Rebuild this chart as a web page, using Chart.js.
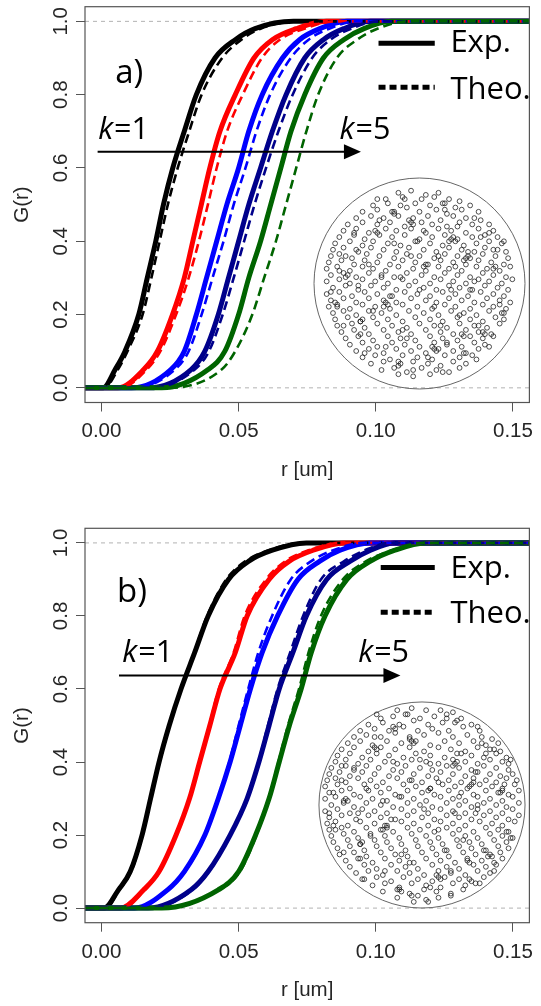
<!DOCTYPE html>
<html>
<head>
<meta charset="utf-8">
<script src="https://cdn.jsdelivr.net/npm/chart.js@4.4.1/dist/chart.umd.min.js"></script>
<style>
  body { margin: 0; background: #fff; }
  #wrap { position: relative; width: 541px; height: 1006px; background: #fff; overflow: hidden; }
  canvas { position: absolute; }
</style>
</head>
<body>
<div id="wrap">
  <canvas id="panelA" width="541" height="503" style="left:0;top:0"></canvas>
  <canvas id="panelB" width="541" height="503" style="left:0;top:503px"></canvas>
  <canvas id="insetA" width="225" height="225" style="left:307px;top:171px"></canvas>
  <canvas id="insetB" width="220" height="220" style="left:312px;top:695px"></canvas>
</div>
<script>
const gLevels = [0, 0.05, 0.1, 0.2, 0.3, 0.4, 0.5, 0.6, 0.7, 0.8, 0.9, 0.95, 0.98, 1.0];
const xTicks = [0, 0.05, 0.10, 0.15];
const yTicks = [0, 0.2, 0.4, 0.6, 0.8, 1.0];
const refLines = [0, 1];
const xRange = [-0.006, 0.156];
const yRange = [-0.04, 1.04];
const seriesColors = ["#000000", "#ff0000", "#0000ff", "#00008b", "#006400"];

// panel a) experimental (solid) and theoretical (dashed), k = 1..5
const aExp1 = [0.0006, 0.005, 0.0086, 0.0136, 0.0167, 0.0198, 0.0226, 0.026, 0.0302, 0.0346, 0.0414, 0.0488, 0.056, 0.070];
const aExp2 = [0.006, 0.0154, 0.0204, 0.0259, 0.0302, 0.0333, 0.0364, 0.0395, 0.0432, 0.0488, 0.0556, 0.0623, 0.071, 0.082];
const aExp3 = [0.011, 0.0253, 0.0302, 0.0346, 0.0383, 0.042, 0.0457, 0.050, 0.0537, 0.0586, 0.066, 0.0722, 0.0796, 0.0895];
const aExp4 = [0.017, 0.0327, 0.0377, 0.0426, 0.0463, 0.050, 0.0537, 0.058, 0.0623, 0.0673, 0.0741, 0.0809, 0.0883, 0.098];
const aExp5 = [0.022, 0.0389, 0.045, 0.050, 0.0537, 0.058, 0.0617, 0.0654, 0.0691, 0.0741, 0.0809, 0.0883, 0.0957, 0.1056];
const aTheo1 = [0.001, 0.006, 0.0095, 0.015, 0.0182, 0.0212, 0.0242, 0.0278, 0.032, 0.0365, 0.044, 0.051, 0.058, 0.072];
const aTheo2 = [0.007, 0.0165, 0.0215, 0.0272, 0.0318, 0.0355, 0.0388, 0.042, 0.0458, 0.0515, 0.0585, 0.065, 0.074, 0.085];
const aTheo3 = [0.012, 0.0268, 0.0318, 0.0365, 0.0405, 0.0445, 0.0482, 0.0525, 0.0565, 0.0615, 0.069, 0.0755, 0.083, 0.093];
const aTheo4 = [0.018, 0.034, 0.0392, 0.0442, 0.0482, 0.052, 0.0558, 0.060, 0.0645, 0.0697, 0.0768, 0.0835, 0.091, 0.101];
const aTheo5 = [0.024, 0.0438, 0.0488, 0.055, 0.0593, 0.0636, 0.0673, 0.071, 0.0747, 0.079, 0.0858, 0.0932, 0.1006, 0.1117];

// panel b)
const bExp1 = [0.001, 0.0062, 0.0105, 0.0148, 0.0179, 0.021, 0.0247, 0.029, 0.034, 0.0389, 0.0463, 0.0537, 0.0623, 0.0747];
const bExp2 = [0.007, 0.0154, 0.021, 0.0272, 0.0321, 0.0358, 0.0395, 0.0432, 0.0488, 0.0531, 0.0611, 0.0685, 0.0772, 0.0883];
const bExp3 = [0.012, 0.0241, 0.0302, 0.0377, 0.0426, 0.0469, 0.0506, 0.0543, 0.0586, 0.0642, 0.0716, 0.0796, 0.087, 0.098];
const bExp4 = [0.017, 0.0327, 0.0389, 0.0469, 0.0531, 0.0574, 0.0611, 0.0648, 0.0698, 0.0747, 0.0821, 0.0907, 0.0981, 0.1068];
const bExp5 = [0.022, 0.0426, 0.050, 0.0562, 0.0611, 0.0648, 0.0685, 0.0728, 0.0765, 0.0815, 0.0895, 0.0981, 0.107, 0.118];
const bTheo1 = [0.0015, 0.0065, 0.0108, 0.015, 0.018, 0.0212, 0.0248, 0.029, 0.0338, 0.0385, 0.0455, 0.0525, 0.061, 0.073];
const bTheo2 = [0.0075, 0.0158, 0.0212, 0.0272, 0.032, 0.0357, 0.0393, 0.0428, 0.0482, 0.0522, 0.060, 0.067, 0.0755, 0.087];
const bTheo3 = [0.0125, 0.0245, 0.0305, 0.0378, 0.0425, 0.0466, 0.050, 0.0535, 0.0572, 0.0622, 0.069, 0.0765, 0.0845, 0.096];
const bTheo4 = [0.0175, 0.0332, 0.0392, 0.047, 0.053, 0.0572, 0.0607, 0.0642, 0.0688, 0.0735, 0.080, 0.0885, 0.096, 0.105];
const bTheo5 = [0.0225, 0.043, 0.0505, 0.0565, 0.061, 0.0645, 0.068, 0.072, 0.0755, 0.080, 0.088, 0.0965, 0.106, 0.117];

// inset point patterns (positions inside a circle of radius 50)
const insetA = [
  [-10,43],[-4,44],[3,42],[9,43],
  [-16,40],[-8,41],[1,40],[7,41],[14,40],[19,39],
  [-22,37],[-15,38],[-9,37],[-2,38],[5,37],[11,38],[17,36],[24,37],
  [-27,34],[-20,35],[-12,34],[-6,36],[0,34],[8,35],[13,33],[20,35],[28,34],
  [-30,31],[-23,32],[-17,31],[-10,32],[-3,31],[4,32],[10,30],[16,32],[22,31],[29,30],
  [-34,28],[-27,29],[-20,28],[-14,29],[-7,27],[1,29],[6,28],[13,27],[19,29],[25,28],[33,28],
  [-36,25],[-30,26],[-24,24],[-16,26],[-11,25],[-4,26],[3,24],[9,26],[15,25],[22,24],[28,26],[35,25],
  [-38,22],[-31,23],[-26,21],[-19,23],[-13,22],[-7,23],[0,21],[6,22],[12,23],[18,21],[25,22],[31,23],[37,22],
  [-40,19],[-33,20],[-27,18],[-22,20],[-15,19],[-9,18],[-2,20],[5,19],[11,18],[17,20],[21,18],[27,19],[33,20],[39,19],
  [-41,16],[-36,17],[-29,15],[-23,17],[-17,16],[-11,15],[-5,17],[2,16],[8,15],[14,17],[20,16],[26,15],[31,17],[37,16],[41,15],
  [-42,13],[-38,14],[-32,12],[-25,14],[-19,13],[-12,12],[-6,14],[0,13],[7,12],[12,14],[18,13],[24,12],[30,14],[36,13],[42,12],
  [-43,10],[-37,11],[-31,9],[-26,11],[-20,10],[-14,9],[-8,11],[-2,10],[4,9],[10,11],[16,10],[22,9],[28,11],[34,10],[40,9],
  [-44,7],[-39,8],[-33,6],[-27,8],[-22,7],[-16,6],[-10,8],[-3,7],[3,6],[9,8],[14,7],[20,6],[27,8],[32,7],[38,6],[43,8],
  [-42,4],[-36,5],[-30,3],[-24,5],[-18,4],[-12,3],[-6,5],[1,4],[7,3],[12,5],[18,4],[24,3],[30,5],[35,4],[41,3],
  [-44,1],[-38,2],[-33,0],[-27,2],[-21,1],[-15,0],[-8,2],[-2,1],[5,0],[10,2],[16,1],[22,0],[28,2],[33,1],[39,0],[44,2],
  [-41,-2],[-35,-1],[-29,-3],[-23,-1],[-17,-2],[-11,-3],[-5,-1],[2,-2],[8,-3],[14,-1],[19,-2],[25,-3],[31,-1],[37,-2],[42,-3],
  [-44,-5],[-38,-4],[-32,-6],[-26,-4],[-20,-5],[-14,-6],[-7,-4],[-1,-5],[5,-6],[11,-4],[17,-5],[23,-6],[29,-4],[35,-5],[40,-6],
  [-42,-8],[-36,-7],[-30,-9],[-24,-7],[-17,-8],[-11,-9],[-4,-7],[3,-8],[8,-9],[14,-7],[20,-8],[26,-9],[32,-7],[38,-8],[43,-9],
  [-43,-11],[-39,-10],[-33,-12],[-27,-10],[-21,-11],[-14,-12],[-8,-10],[-1,-11],[6,-12],[12,-10],[17,-11],[24,-12],[30,-10],[35,-11],[41,-12],
  [-41,-14],[-36,-13],[-30,-15],[-24,-13],[-18,-14],[-11,-15],[-5,-13],[2,-14],[9,-15],[15,-13],[21,-14],[27,-15],[33,-13],[39,-14],
  [-40,-17],[-34,-16],[-28,-18],[-22,-16],[-15,-17],[-8,-18],[-2,-16],[5,-17],[11,-18],[18,-16],[24,-17],[30,-18],[36,-16],[40,-17],
  [-39,-20],[-32,-19],[-26,-21],[-20,-19],[-13,-20],[-6,-21],[0,-19],[7,-20],[13,-21],[19,-19],[26,-20],[32,-21],[38,-19],
  [-37,-23],[-31,-22],[-24,-24],[-17,-22],[-10,-23],[-4,-24],[3,-22],[10,-23],[16,-24],[22,-22],[28,-23],[34,-24],
  [-35,-26],[-29,-25],[-22,-27],[-15,-25],[-9,-26],[-2,-27],[5,-25],[11,-26],[18,-27],[24,-25],[30,-26],[35,-25],
  [-33,-29],[-27,-28],[-20,-30],[-13,-28],[-7,-29],[0,-30],[7,-28],[13,-29],[20,-30],[26,-28],[31,-29],
  [-30,-32],[-24,-31],[-17,-33],[-11,-31],[-4,-32],[3,-33],[9,-31],[16,-32],[22,-33],[28,-31],
  [-27,-35],[-21,-34],[-14,-36],[-8,-34],[-1,-35],[6,-36],[12,-34],[19,-35],[25,-34],
  [-23,-38],[-17,-37],[-10,-39],[-3,-37],[4,-38],[10,-39],[16,-37],[22,-38],
  [-18,-41],[-12,-40],[-6,-42],[1,-40],[8,-41],[14,-42],[19,-40],
  [-10,-43],[-3,-44],[5,-43],[11,-42],
  [-7,40],[12,35],[-19,30],[26,31],[-31,24],[2,25],[18,27],[-12,19],[-35,13],[23,15],
  [9,13],[-24,9],[35,16],[-4,13],[17,8],[-29,-1],[0,-3],[26,1],[-13,-6],[38,-10],
  [-22,-13],[7,-11],[19,-15],[-36,-20],[-8,-22],[28,-20],[13,-28],[-16,-30],[4,-35],[-28,-24],
  [33,-30],[-3,-41],[21,-33],[-38,6],[40,20],[-20,40],[29,22],[-26,-33],[15,-3],[-9,3],
  [-5,30],[-4,29],[-3,28],[21,11],[22,12],[23,13],[-16,-9],[-15,-10],[-17,-11],[30,-23],
  [31,-24],[-34,4],[-35,3],[6,-30],[7,-31],[8,-32],[-20,24],[-21,25],[14,20],[15,21],
  [16,22],[-40,-9],[-39,-11],[35,7],[36,8],[-9,-38],[-10,-37],[2,8],[3,9],[-27,-17],
  [-28,-18],[20,-24],[21,-25],[-13,34],[-12,33],[27,-36],[40,-14],[-42,-4],[-30,16],[10,-20],
  [-6,-26],[33,24],[-18,3],[24,-3],[-1,20],[12,38]
];
const insetB = [
  [-12,46],[-5,47],[2,46],[9,46],[15,45],
  [-20,42],[-14,43],[-7,44],[-1,42],[6,43],[12,44],[19,42],
  [-26,39],[-19,40],[-11,39],[-4,41],[3,39],[10,40],[17,41],[24,39],[27,38],
  [-30,36],[-23,37],[-16,36],[-9,38],[-2,36],[5,37],[13,36],[20,38],[28,36],
  [-33,33],[-27,34],[-20,33],[-13,35],[-6,33],[1,34],[8,35],[15,33],[22,34],[29,33],[34,32],
  [-36,30],[-30,31],[-24,29],[-17,31],[-10,30],[-3,31],[4,29],[11,31],[18,30],[25,31],[31,29],[37,30],
  [-39,27],[-33,28],[-26,26],[-20,28],[-13,27],[-6,28],[1,26],[8,28],[14,27],[21,26],[27,28],[33,27],[38,26],
  [-41,24],[-35,25],[-29,23],[-22,25],[-16,24],[-9,23],[-3,25],[4,24],[11,23],[17,25],[24,24],[30,23],[36,25],[41,23],
  [-42,21],[-37,22],[-31,20],[-25,22],[-18,21],[-12,20],[-5,22],[2,21],[8,20],[15,22],[21,21],[27,20],[33,22],[39,21],[42,20],
  [-44,18],[-39,19],[-33,17],[-27,19],[-21,18],[-14,17],[-8,19],[-1,18],[5,17],[12,19],[18,18],[24,17],[30,19],[36,18],[42,17],
  [-45,15],[-40,16],[-35,14],[-29,16],[-23,15],[-16,14],[-10,16],[-4,15],[3,14],[9,16],[15,15],[21,14],[27,16],[33,15],[38,14],[44,15],
  [-46,12],[-42,13],[-37,11],[-31,13],[-25,12],[-19,11],[-12,13],[-6,12],[0,11],[7,13],[13,12],[19,11],[25,13],[31,12],[36,11],[41,13],[46,12],
  [-47,9],[-41,10],[-35,8],[-28,10],[-22,9],[-16,8],[-9,10],[-3,9],[4,8],[10,10],[16,9],[22,8],[28,10],[34,9],[39,8],[45,10],
  [-45,6],[-39,7],[-33,5],[-26,7],[-20,6],[-13,5],[-7,7],[0,6],[6,5],[13,7],[19,6],[25,5],[31,7],[37,6],[42,5],[47,7],
  [-47,3],[-42,4],[-36,2],[-30,4],[-24,3],[-17,2],[-11,4],[-4,3],[2,2],[9,4],[15,3],[21,2],[27,4],[33,3],[39,2],[44,4],
  [-44,0],[-38,1],[-33,-1],[-27,1],[-20,0],[-14,-1],[-7,1],[-1,0],[5,-1],[12,1],[18,0],[24,-1],[30,1],[36,0],[41,-1],[47,1],
  [-47,-3],[-41,-2],[-35,-4],[-29,-2],[-23,-3],[-17,-4],[-10,-2],[-4,-3],[3,-4],[9,-2],[15,-3],[21,-4],[27,-2],[33,-3],[39,-4],[44,-2],
  [-45,-6],[-39,-5],[-32,-7],[-26,-5],[-20,-6],[-13,-7],[-7,-5],[0,-6],[6,-7],[12,-5],[18,-6],[24,-7],[30,-5],[36,-6],[42,-7],[47,-5],
  [-46,-9],[-42,-8],[-36,-10],[-30,-8],[-23,-9],[-17,-10],[-10,-8],[-4,-9],[3,-10],[9,-8],[15,-9],[21,-10],[28,-8],[34,-9],[39,-10],[45,-8],
  [-45,-12],[-39,-11],[-33,-13],[-27,-11],[-20,-12],[-14,-13],[-7,-11],[-1,-12],[6,-13],[12,-11],[18,-12],[25,-13],[31,-11],[37,-12],[42,-13],
  [-44,-15],[-38,-14],[-31,-16],[-25,-14],[-18,-15],[-11,-16],[-5,-14],[2,-15],[8,-16],[15,-14],[21,-15],[27,-16],[33,-14],[39,-15],[44,-16],
  [-43,-18],[-36,-17],[-30,-19],[-23,-17],[-17,-18],[-10,-19],[-3,-17],[4,-18],[10,-19],[17,-17],[23,-18],[29,-19],[35,-17],[41,-18],
  [-41,-21],[-35,-20],[-28,-22],[-22,-20],[-15,-21],[-8,-22],[-2,-20],[5,-21],[12,-22],[18,-20],[24,-21],[31,-22],[37,-20],[42,-21],
  [-40,-24],[-33,-23],[-27,-25],[-20,-23],[-13,-24],[-7,-25],[0,-23],[7,-24],[13,-25],[20,-23],[26,-24],[32,-25],[38,-23],
  [-37,-27],[-31,-26],[-24,-28],[-18,-26],[-11,-27],[-4,-28],[2,-26],[9,-27],[16,-28],[22,-26],[29,-27],[35,-28],[39,-26],
  [-35,-30],[-28,-29],[-22,-31],[-15,-29],[-8,-30],[-2,-31],[5,-29],[12,-30],[18,-31],[25,-29],[31,-30],[36,-29],
  [-32,-33],[-26,-32],[-19,-34],[-12,-32],[-6,-33],[1,-34],[8,-32],[14,-33],[21,-34],[27,-32],[33,-33],
  [-29,-36],[-22,-35],[-15,-37],[-9,-35],[-2,-36],[5,-37],[11,-35],[18,-36],[24,-37],[30,-35],
  [-24,-39],[-18,-38],[-11,-40],[-5,-38],[2,-39],[9,-40],[15,-38],[21,-39],[26,-38],
  [-19,-42],[-12,-41],[-6,-43],[1,-41],[7,-42],[14,-43],[20,-41],
  [-12,-45],[-5,-44],[2,-46],[8,-45],[14,-44],
  [-4,-47],[3,-47],
  [-8,44],[16,40],[-23,33],[29,30],[-37,19],[4,20],[19,25],[-14,21],[-39,12],[26,16],
  [8,11],[-27,8],[40,10],[-5,12],[18,4],[-31,-4],[1,-2],[27,0],[-15,-7],[41,-13],
  [-25,-15],[8,-12],[20,-17],[-38,-23],[-10,-24],[30,-22],[14,-32],[-18,-32],[4,-40],[-30,-26],
  [35,-32],[-2,-44],[23,-36],[-43,6],[43,22],[-22,44],[31,25],[-28,-36],[16,-4],[-10,4],
  [-6,32],[-5,31],[-4,30],[23,9],[24,10],[25,11],[-18,-10],[-17,-11],[-19,-12],[33,-24],
  [34,-25],[-37,3],[-38,2],[7,-34],[8,-35],[9,-36],[-22,27],[-23,28],[15,19],[16,20],
  [17,21],[-43,-10],[-42,-12],[38,6],[39,7],[-10,-42],[-11,-41],[3,7],[4,8],[-29,-18],
  [-30,-19],[22,-27],[23,-28],[-14,38],[-13,37],[28,-38],[43,-16],[-45,-4],[-33,18],[11,-22],
  [-6,-28],[35,27],[-19,2],[26,-4],[-1,22],[12,42]
];
const ringRadius = 50;

const tickFont = '20.5px "Liberation Sans", Arial, sans-serif';
const noteFont = '"Open Sans", "Lato", sans-serif';

function curve(r, i, dashed) {
  const pts = [{ x: xRange[0], y: 0 }];
  r.forEach((v, j) => pts.push({ x: v, y: gLevels[j] }));
  pts.push({ x: xRange[1], y: 1 });
  return {
    data: pts,
    showLine: true,
    borderColor: seriesColors[i],
    borderWidth: dashed ? 2.6 : 5,
    borderDash: dashed ? [9, 5] : [],
    pointRadius: 0,
    cubicInterpolationMode: "monotone",
    fill: false,
    // later k drawn on top, dashed over solid
    order: (dashed ? 0 : 10) + (4 - i)
  };
}

const decor = {
  id: "decor",
  beforeDatasetsDraw(chart) {
    const { ctx, chartArea: ca, scales: { y } } = chart;
    ctx.save();
    ctx.strokeStyle = "#b3b3b3";
    ctx.lineWidth = 1;
    ctx.setLineDash([4, 4]);
    refLines.forEach(v => {
      const py = y.getPixelForValue(v);
      ctx.beginPath();
      ctx.moveTo(ca.left, py);
      ctx.lineTo(ca.right, py);
      ctx.stroke();
    });
    ctx.restore();
  },
  afterDraw(chart, args, o) {
    const { ctx, chartArea: ca, scales: { x, y } } = chart;
    ctx.save();
    // frame
    ctx.strokeStyle = "#555";
    ctx.lineWidth = 1.2;
    ctx.strokeRect(ca.left, ca.top, ca.right - ca.left, ca.bottom - ca.top);

    // y tick labels, rotated like R's las=0
    ctx.fillStyle = "#262626";
    ctx.font = tickFont;
    ctx.textAlign = "center";
    ctx.textBaseline = "alphabetic";
    yTicks.forEach(v => {
      ctx.save();
      ctx.translate(ca.left - 18.3, y.getPixelForValue(v));
      ctx.rotate(-Math.PI / 2);
      ctx.fillText(v.toFixed(1), 0, 0);
      ctx.restore();
    });
    // axis titles
    ctx.fillText("r [um]", (ca.left + ca.right) / 2, ca.bottom + 73.5);
    ctx.save();
    ctx.translate(ca.left - 57, (ca.top + ca.bottom) / 2);
    ctx.rotate(-Math.PI / 2);
    ctx.fillText("G(r)", 0, 0);
    ctx.restore();

    // arrow k=1 -> k=5
    const ax0 = x.getPixelForValue(o.arrow[0]);
    const ax1 = x.getPixelForValue(o.arrow[1]);
    const ay = y.getPixelForValue(o.arrow[2]);
    ctx.strokeStyle = "#000";
    ctx.fillStyle = "#000";
    ctx.lineWidth = 2;
    ctx.beginPath();
    ctx.moveTo(ax0, ay);
    ctx.lineTo(ax1 - 12, ay);
    ctx.stroke();
    ctx.beginPath();
    ctx.moveTo(ax1, ay);
    ctx.lineTo(ax1 - 17, ay - 7.5);
    ctx.lineTo(ax1 - 17, ay + 7.5);
    ctx.closePath();
    ctx.fill();

    // k labels
    ctx.textAlign = "left";
    o.kLabels.forEach(k => {
      const px = x.getPixelForValue(k.r), py = y.getPixelForValue(o.kG);
      ctx.font = "italic 30.5px " + noteFont;
      ctx.fillText("k", px, py);
      const w = ctx.measureText("k").width;
      ctx.font = "30.5px " + noteFont;
      ctx.fillText(k.text, px + w + 1, py);
    });

    // panel tag
    ctx.font = "33px " + noteFont;
    ctx.fillText(o.tag, x.getPixelForValue(o.tagPos[0]), y.getPixelForValue(o.tagPos[1]));

    // legend
    const lx0 = x.getPixelForValue(o.legend.r0), lx1 = x.getPixelForValue(o.legend.r1);
    const lt = x.getPixelForValue(o.legend.rt);
    ctx.lineWidth = 5;
    ctx.beginPath();
    ctx.moveTo(lx0, y.getPixelForValue(o.legend.gExp));
    ctx.lineTo(lx1, y.getPixelForValue(o.legend.gExp));
    ctx.stroke();
    ctx.setLineDash([7, 4]);
    ctx.beginPath();
    ctx.moveTo(lx0, y.getPixelForValue(o.legend.gTheo));
    ctx.lineTo(lx1, y.getPixelForValue(o.legend.gTheo));
    ctx.stroke();
    ctx.setLineDash([]);
    ctx.font = "31px " + noteFont;
    ctx.fillText("Exp.", lt, y.getPixelForValue(o.legend.gExpText));
    ctx.fillText("Theo.", lt, y.getPixelForValue(o.legend.gTheoText));
    ctx.restore();
  }
};

function makePanel(id, exps, theos, cfg) {
  const datasets = [];
  exps.forEach((r, i) => datasets.push(curve(r, i, false)));
  theos.forEach((r, i) => datasets.push(curve(r, i, true)));
  return new Chart(document.getElementById(id), {
    type: "scatter",
    data: { datasets },
    options: {
      responsive: false,
      animation: false,
      devicePixelRatio: 1,
      layout: { padding: { top: cfg.top, right: 3, left: 0, bottom: 0 } },
      scales: {
        x: {
          type: "linear",
          min: xRange[0],
          max: xRange[1],
          afterBuildTicks: s => { s.ticks = xTicks.map(v => ({ value: v })); },
          afterFit: s => { s.height = cfg.xHeight; },
          ticks: {
            callback: v => v.toFixed(2),
            font: { family: '"Liberation Sans", Arial, sans-serif', size: 20.5 },
            color: "#262626",
            padding: 8,
            maxRotation: 0,
            autoSkip: false
          },
          grid: { drawOnChartArea: false, drawTicks: true, tickLength: 9, color: "#555" },
          border: { display: false }
        },
        y: {
          type: "linear",
          min: yRange[0],
          max: yRange[1],
          afterBuildTicks: s => { s.ticks = yTicks.map(v => ({ value: v })); },
          afterFit: s => { s.width = 85; },
          ticks: { display: false },
          grid: { drawOnChartArea: false, drawTicks: true, tickLength: 9, color: "#555" },
          border: { display: false }
        }
      },
      plugins: {
        legend: { display: false },
        tooltip: { enabled: false },
        decor: cfg.decor
      }
    },
    plugins: [decor]
  });
}

makePanel("panelA",
  [aExp1, aExp2, aExp3, aExp4, aExp5],
  [aTheo1, aTheo2, aTheo3, aTheo4, aTheo5],
  {
    top: 6.7, xHeight: 100.5,
    decor: {
      tag: "a)", tagPos: [0.005, 0.833],
      arrow: [-0.0014, 0.0946, 0.644],
      kG: 0.678, kLabels: [{ r: -0.0012, text: "=1" }, { r: 0.0868, text: "=5" }],
      legend: { r0: 0.101, r1: 0.1215, rt: 0.1272, gExp: 0.94, gExpText: 0.9154, gTheo: 0.82, gTheoText: 0.787 }
    }
  });

makePanel("panelB",
  [bExp1, bExp2, bExp3, bExp4, bExp5],
  [bTheo1, bTheo2, bTheo3, bTheo4, bTheo5],
  {
    top: 25.3, xHeight: 83.3,
    decor: {
      tag: "b)", tagPos: [0.0057, 0.837],
      arrow: [0.0064, 0.109, 0.637],
      kG: 0.673, kLabels: [{ r: 0.0076, text: "=1" }, { r: 0.0936, text: "=5" }],
      legend: { r0: 0.1018, r1: 0.1215, rt: 0.1272, gExp: 0.9325, gExpText: 0.905, gTheo: 0.81, gTheoText: 0.782 }
    }
  });

const ring = {
  id: "ring",
  beforeDatasetsDraw(chart) {
    const { ctx, scales: { x, y } } = chart;
    const cx = x.getPixelForValue(0), cy = y.getPixelForValue(0);
    const rad = x.getPixelForValue(ringRadius) - cx;
    ctx.save();
    ctx.strokeStyle = "#666";
    ctx.lineWidth = 1;
    ctx.beginPath();
    ctx.arc(cx, cy, rad, 0, Math.PI * 2);
    ctx.stroke();
    ctx.restore();
  }
};

function makeInset(id, pts) {
  return new Chart(document.getElementById(id), {
    type: "scatter",
    data: {
      datasets: [{
        data: pts.map(p => ({ x: p[0], y: p[1] })),
        pointRadius: 2.4,
        pointBorderWidth: 0.9,
        pointBorderColor: "rgba(25,25,25,0.85)",
        pointBackgroundColor: "rgba(0,0,0,0)"
      }]
    },
    options: {
      responsive: false,
      animation: false,
      devicePixelRatio: 1,
      layout: { padding: 0 },
      scales: {
        x: { type: "linear", min: -51, max: 51, display: false },
        y: { type: "linear", min: -51, max: 51, display: false }
      },
      plugins: { legend: { display: false }, tooltip: { enabled: false } }
    },
    plugins: [ring]
  });
}

makeInset("insetA", insetA);
makeInset("insetB", insetB);
</script>
</body>
</html>
